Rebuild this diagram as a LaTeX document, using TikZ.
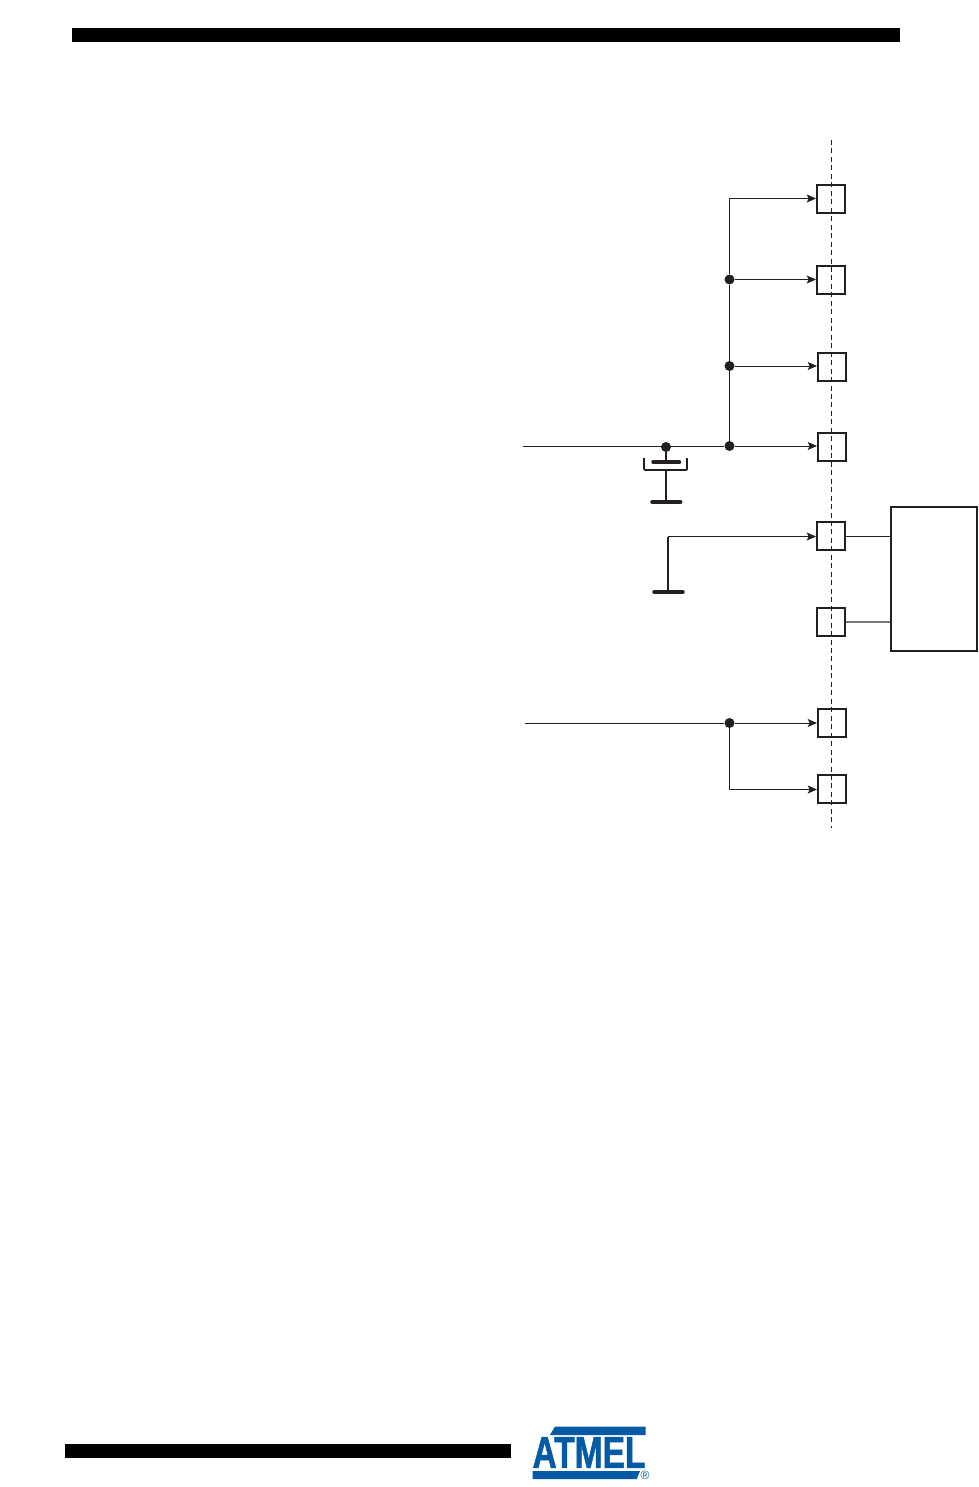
\documentclass[tikz,border=0pt]{standalone}
\usepackage{fontspec}
\setmainfont{Liberation Sans}
\newfontfamily\logofont[FakeBold=1.5]{Liberation Sans Bold}
\usetikzlibrary{arrows.meta}
\definecolor{atmelblue}{RGB}{5,90,165}
\definecolor{ink}{RGB}{35,31,32}
\tikzset{
  pad/.style={draw=ink,line width=1.5pt,minimum size=21pt,inner sep=0pt},
  dot/.style={circle,fill=ink,inner sep=0pt,minimum size=7.5pt},
  wire/.style={draw=ink,line width=0.75pt},
  feed/.style={wire,-{Stealth[length=7pt,width=6pt,inset=1.5pt]}},
  stem/.style={draw=ink,line width=1.4pt},
  rail/.style={draw=ink,line width=2.6pt,line cap=round},
}
\begin{document}
\begin{tikzpicture}[x=0.75pt,y=0.75pt,yscale=-1,xscale=1]
\useasboundingbox (0,0) rectangle (978,1487);

% page bars
\fill [black] (72,28) rectangle (900,42);
\fill [black] (65,1444) rectangle (511,1458);

% package edge
\coordinate (edgetop) at (831,140);
\coordinate (edgebot) at (831,828);
\draw [ink,line width=0.75pt,dash pattern=on 3.75pt off 2.6pt] (edgetop) -- (edgebot);

% pads
\node [pad] (pa) at (831,199) {};
\node [pad] (pb) at (831,280) {};
\node [pad] (pc) at (832,367) {};
\node [pad] (pd) at (832,447) {};
\node [pad] (pe) at (831,536) {};
\node [pad] (pf) at (831,622) {};
\node [pad] (pg) at (832,723) {};
\node [pad] (ph) at (832,789) {};

% crystal block
\node [draw=ink,line width=1.5pt,minimum width=64.5pt,minimum height=108pt,inner sep=0pt] (xtal) at (934,579) {};

% junctions
\node [dot] (jb) at (729.5,279.5) {};
\node [dot] (jc) at (729.5,366) {};
\node [dot] (jd) at (729.5,446) {};
\node [dot] (jcap) at (666,447) {};
\node [dot] (jg) at (729.5,723) {};
\coordinate (ja) at (729.5,198.5);
\coordinate (jh) at (729.5,789.5);
\coordinate (lin) at (523,446);
\coordinate (lgnd) at (667.7,536.5);
\coordinate (lrst) at (525,723);

% upper supply
\draw [wire] (ja) -- (jb) -- (jc) -- (jd);
\draw [feed] (ja) -- (ja -| pa.west);
\draw [feed] (jb) -- (jb -| pb.west);
\draw [feed] (jc) -- (jc -| pc.west);
\draw [wire] (lin) -- (jd);
\draw [feed] (jd) -- (jd -| pd.west);

% decoupling capacitor
\coordinate (capa) at (666,462);
\coordinate (capb) at (666,470);
\coordinate (capg) at (666,502);
\draw [stem] (jcap) -- (capa);
\draw [rail] (653,462) -- (679.5,462);
\draw [stem,rounded corners=0.8pt] (644,458) -- (644,470) -- (687,470) -- (687,458);
\draw [stem] (capb) -- (capg);
\draw [rail] (652,502) -- (680.7,502);

% ground pin
\coordinate (gnd) at (667.7,592);
\draw [stem] (lgnd) -- (gnd);
\draw [rail] (654,592) -- (683,592);
\draw [feed] (lgnd) -- (lgnd -| pe.west);

% crystal connections
\draw [wire] (pe.east) -- (pe.east -| xtal.west);
\draw [draw=ink!60,line width=0.9pt] (pf.east) -- (pf.east -| xtal.west);

% lower supply
\draw [wire] (lrst) -- (jg);
\draw [feed] (jg) -- (jg -| pg.west);
\draw [wire] (jg) -- (jh);
\draw [feed] (jh) -- (jh -| ph.west);

% logo
\fill [atmelblue] (555,1426.5) -- (645.5,1426.5) -- (645.5,1435) -- (550,1435) -- cycle;
\fill [atmelblue] (532.5,1471) -- (640,1471) -- (636.7,1479) -- (532.5,1479) -- cycle;
\node [inner sep=0pt,text=atmelblue,font=\logofont\fontsize{33.5}{33.5}\selectfont,xscale=0.75] (logo) at (589,1452.5) {ATMEL};
\node [inner sep=0pt,text=atmelblue,font=\fontsize{9}{9}\selectfont] (reg) at (645,1475) {®};
\end{tikzpicture}
\end{document}
